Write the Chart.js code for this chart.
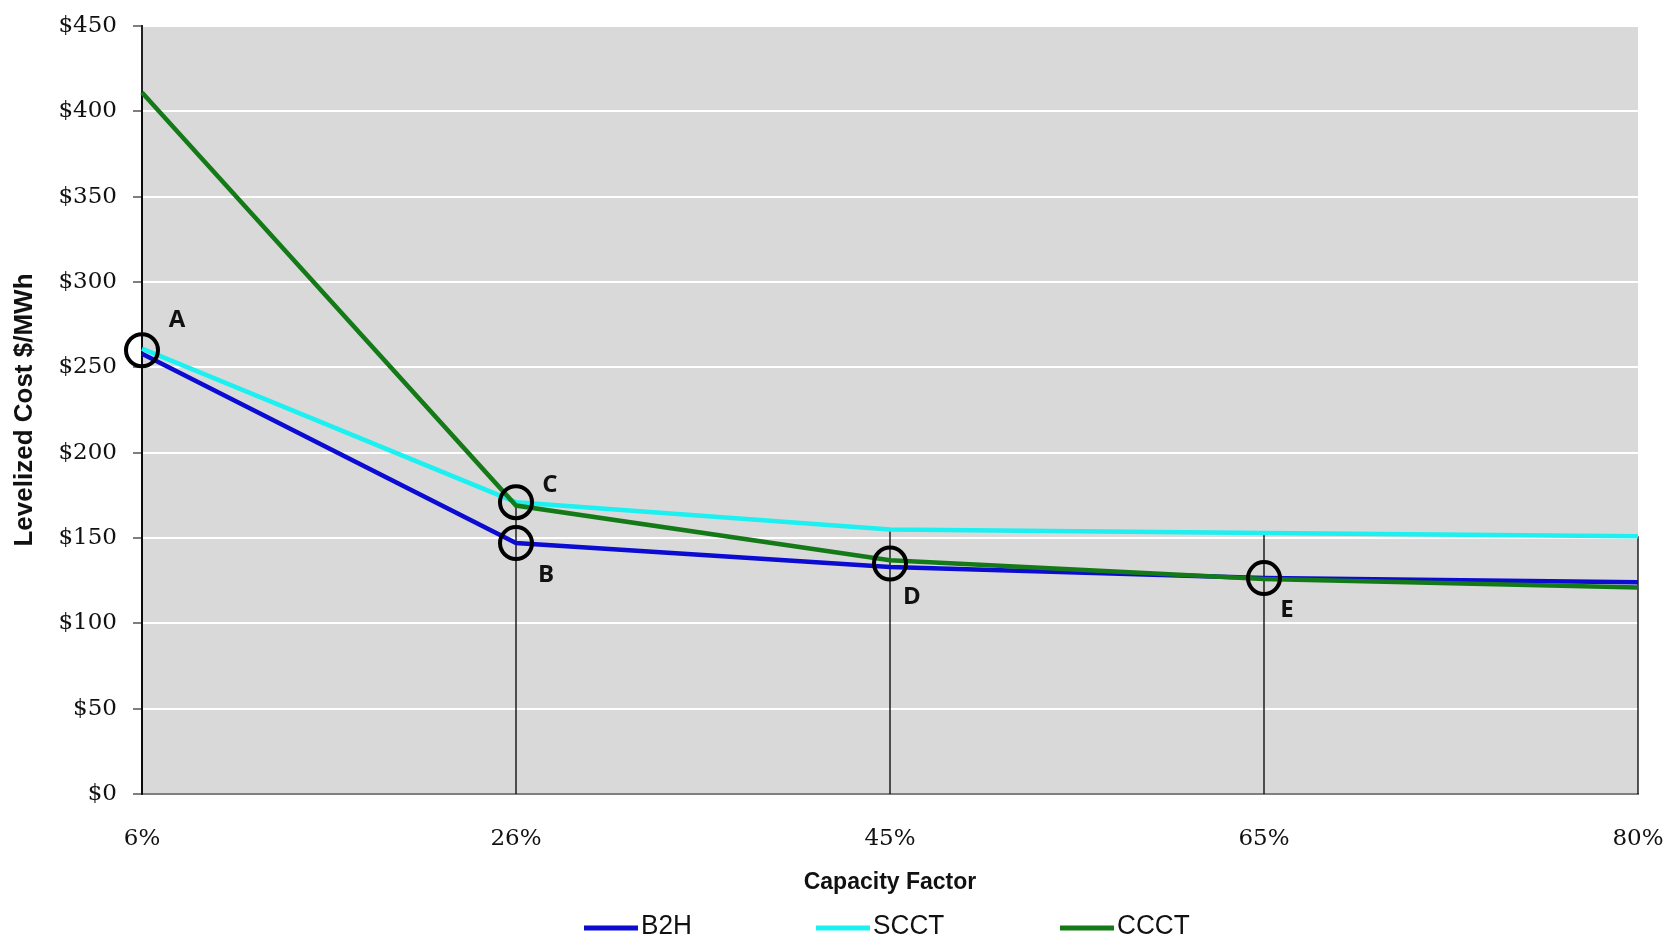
<!DOCTYPE html>
<html>
<head>
<meta charset="utf-8">
<style>
  html, body { margin: 0; padding: 0; background: #ffffff; }
  #wrap { width: 1667px; height: 943px; position: relative; }
</style>
<script src="https://cdn.jsdelivr.net/npm/chart.js@4.4.1/dist/chart.umd.min.js"></script>
</head>
<body>
<div id="wrap"><canvas id="chart"></canvas></div>
<script>
// Capacity factor categories along the x axis
const capacityFactors = ['6%', '26%', '45%', '65%', '80%'];

// Levelized cost ($/MWh) per technology
const b2hCost  = [258, 147, 133, 126.5, 124];
const scctCost = [261, 171, 155, 153, 151];
const cccctCost = [411, 169, 137, 126, 121];

// Y axis range and step
const costMin = 0;
const costMax = 450;
const costStep = 50;

// Highlighted comparison points
const markerLetters    = ['A', 'B', 'C', 'D', 'E'];
const markerCategories = ['6%', '26%', '26%', '45%', '65%'];
const markerCosts      = [260, 147, 171, 135, 126.5];

const seriesNames  = ['B2H', 'SCCT', 'CCCT'];
const seriesColors = ['#0b0bd2', '#1cf0f0', '#137a17'];

// Grey plot-area fill
const plotBackground = {
  id: 'plotBackground',
  beforeDraw(chart) {
    const { ctx, chartArea: a } = chart;
    ctx.save();
    ctx.fillStyle = '#d9d9d9';
    ctx.fillRect(a.left, a.top, a.right - a.left, a.bottom - a.top);
    ctx.restore();
  }
};

// Vertical drop lines from the highest series value down to the x axis
const dropLines = {
  id: 'dropLines',
  beforeDatasetsDraw(chart) {
    const { ctx, scales: { y } } = chart;
    const base = y.getPixelForValue(0);
    const metas = [0, 1, 2].map(i => chart.getDatasetMeta(i));
    ctx.save();
    ctx.strokeStyle = '#000';
    ctx.lineWidth = 1.3;
    capacityFactors.forEach((_, i) => {
      const pts = metas.map(m => m.data[i]);
      const top = Math.min(...pts.map(p => p.y));
      const x = pts[0].x;
      ctx.beginPath();
      ctx.moveTo(x, top);
      ctx.lineTo(x, base);
      ctx.stroke();
    });
    ctx.restore();
  }
};

// Letters next to the circled points
const pointLetters = {
  id: 'pointLetters',
  afterDatasetsDraw(chart, args, opts) {
    const { ctx } = chart;
    const meta = chart.getDatasetMeta(3);
    ctx.save();
    ctx.font = opts.font;
    ctx.fillStyle = '#111';
    ctx.textAlign = 'center';
    ctx.textBaseline = 'middle';
    meta.data.forEach((pt, i) => {
      const off = opts.offsets[i];
      ctx.fillText(markerLetters[i], pt.x + off[0], pt.y + off[1]);
    });
    ctx.restore();
  }
};

// Legend row under the axis title
const lineLegend = {
  id: 'lineLegend',
  afterDraw(chart, args, opts) {
    const { ctx } = chart;
    ctx.save();
    ctx.font = opts.font;
    ctx.textBaseline = 'middle';
    ctx.textAlign = 'left';
    const y = opts.y;
    for (let i = 0; i < 3; i++) {
      const ds = chart.data.datasets[i];
      const x = opts.itemStarts[i];
      ctx.strokeStyle = ds.borderColor;
      ctx.lineWidth = opts.lineWidth;
      ctx.beginPath();
      ctx.moveTo(x, y + 1);
      ctx.lineTo(x + opts.lineLength, y + 1);
      ctx.stroke();
      ctx.save();
      ctx.translate(x + opts.lineLength + opts.textGap, y);
      ctx.scale(opts.squeeze, 1);
      ctx.fillStyle = '#111';
      ctx.fillText(ds.label, 0, 0);
      ctx.restore();
    }
    ctx.restore();
  }
};

const seriesData = [b2hCost, scctCost, cccctCost];
const tickFont = { family: '"DejaVu Serif", "Liberation Serif", serif', size: 23 };

new Chart(document.getElementById('chart'), {
  type: 'line',
  data: {
    labels: capacityFactors,
    datasets: [
      ...seriesNames.map((name, i) => ({
        label: name,
        data: seriesData[i],
        borderColor: seriesColors[i],
        backgroundColor: seriesColors[i],
        borderWidth: 4.5,
        pointRadius: 0,
        tension: 0,
        fill: false,
        order: 3 - i
      })),
      {
        label: 'markers',
        data: markerCategories.map((c, i) => ({ x: c, y: markerCosts[i] })),
        showLine: false,
        pointRadius: 16,
        pointHoverRadius: 16,
        pointBorderWidth: 4,
        pointBorderColor: '#000',
        pointBackgroundColor: 'rgba(0,0,0,0)',
        borderColor: '#000',
        order: 0
      }
    ]
  },
  options: {
    responsive: true,
    maintainAspectRatio: false,
    animation: false,
    layout: { padding: { top: 26, right: 29, bottom: 47, left: 0 } },
    plugins: {
      legend: { display: false },
      tooltip: { enabled: false },
      pointLetters: {
        font: 'bold 24px "Open Sans", "Liberation Sans", sans-serif',
        offsets: [[35, -30], [30, 32], [34, -17], [22, 34], [23, 32]]
      },
      lineLegend: {
        font: '27px "Liberation Sans", Arial, sans-serif',
        itemStarts: [584, 816, 1060],
        y: 927,
        lineLength: 54,
        lineWidth: 5,
        textGap: 3,
        squeeze: 0.97
      }
    },
    scales: {
      x: {
        type: 'category',
        offset: false,
        grid: { display: false, drawTicks: false },
        border: { display: true, color: '#7f7f7f', width: 2 },
        ticks: {
          padding: 31,
          color: '#111',
          maxRotation: 0,
          font: tickFont
        },
        title: {
          display: true,
          text: 'Capacity Factor',
          color: '#111',
          padding: { top: 0, bottom: 0 },
          font: { family: '"Liberation Sans", Arial, sans-serif', size: 23, weight: 'bold' }
        },
        afterFit(scale) {
          scale.height = 102;
          scale.paddingLeft = 0;
          scale.paddingRight = 0;
        }
      },
      y: {
        min: costMin,
        max: costMax,
        grid: {
          color: '#ffffff',
          lineWidth: 2,
          drawTicks: true,
          tickLength: 9,
          tickColor: '#555',
          tickWidth: 1.5
        },
        border: { display: true, color: '#222', width: 2 },
        ticks: {
          stepSize: costStep,
          padding: 16,
          color: '#111',
          font: tickFont,
          callback: v => '$' + v
        },
        title: {
          display: true,
          text: 'Levelized Cost $/MWh',
          color: '#111',
          padding: { top: 9, bottom: 0 },
          font: { family: '"Liberation Sans", Arial, sans-serif', size: 26, weight: 'bold' }
        },
        afterFit(scale) {
          scale.width = 142;
          scale.paddingTop = 0;
          scale.paddingBottom = 0;
        }
      }
    }
  },
  plugins: [plotBackground, dropLines, pointLetters, lineLegend]
});
</script>
</body>
</html>
